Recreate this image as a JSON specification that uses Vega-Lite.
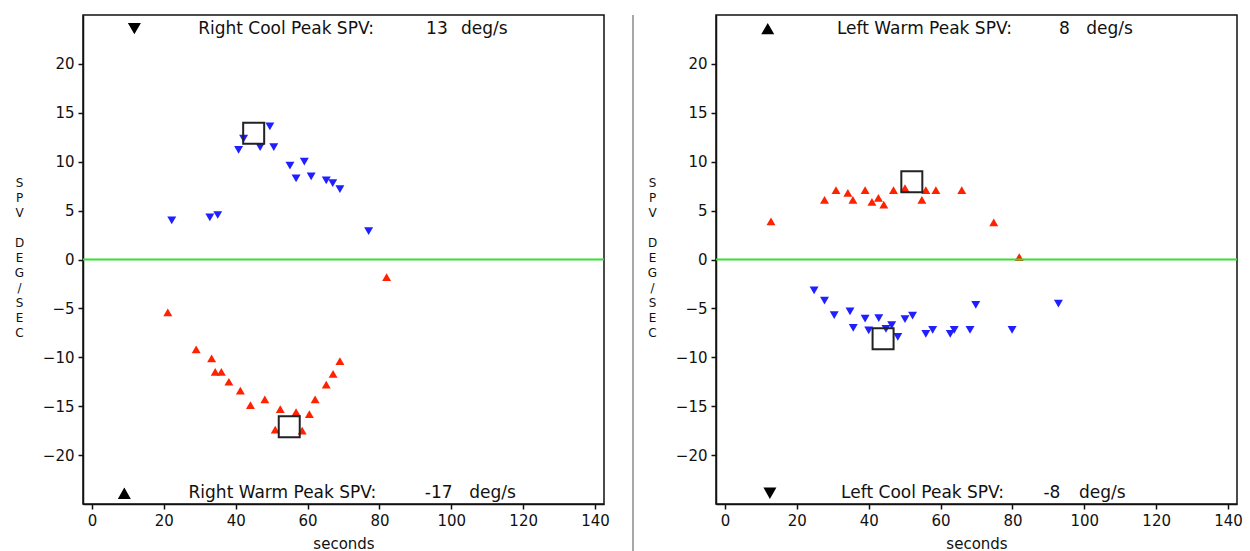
{
  "$schema": "https://vega.github.io/schema/vega-lite/v6.json",
  "background": "white",
  "padding": {"left": 13, "top": 14, "right": 0, "bottom": 0},
  "config": {
    "font": "DejaVu Sans",
    "view": {"stroke": "#111", "strokeWidth": 1.5},
    "axis": {"grid": false, "domainColor": "#111", "domainWidth": 1.5, "tickColor": "#111", "tickSize": 5, "tickWidth": 1.5, "labelColor": "#111", "labelFontSize": 15, "titleColor": "#111", "titleFontWeight": "normal", "labelPadding": 4}
  },
  "spacing": 5,
  "datasets": {
    "leftPts": [
      {"t": 22.2, "spv": 4.0, "stim": "cool"},
      {"t": 32.8, "spv": 4.3, "stim": "cool"},
      {"t": 35.0, "spv": 4.55, "stim": "cool"},
      {"t": 40.8, "spv": 11.2, "stim": "cool"},
      {"t": 42.2, "spv": 12.35, "stim": "cool"},
      {"t": 46.8, "spv": 11.5, "stim": "cool"},
      {"t": 49.5, "spv": 13.6, "stim": "cool"},
      {"t": 50.6, "spv": 11.5, "stim": "cool"},
      {"t": 55.1, "spv": 9.6, "stim": "cool"},
      {"t": 56.8, "spv": 8.3, "stim": "cool"},
      {"t": 59.1, "spv": 10.0, "stim": "cool"},
      {"t": 61.0, "spv": 8.5, "stim": "cool"},
      {"t": 65.2, "spv": 8.1, "stim": "cool"},
      {"t": 67.0, "spv": 7.8, "stim": "cool"},
      {"t": 69.0, "spv": 7.2, "stim": "cool"},
      {"t": 77.0, "spv": 2.9, "stim": "cool"},
      {"t": 82.0, "spv": -1.8, "stim": "warm"},
      {"t": 21.1, "spv": -5.4, "stim": "warm"},
      {"t": 29.0, "spv": -9.2, "stim": "warm"},
      {"t": 33.3, "spv": -10.1, "stim": "warm"},
      {"t": 34.3, "spv": -11.5, "stim": "warm"},
      {"t": 36.0, "spv": -11.5, "stim": "warm"},
      {"t": 38.1, "spv": -12.5, "stim": "warm"},
      {"t": 41.3, "spv": -13.4, "stim": "warm"},
      {"t": 44.1, "spv": -14.9, "stim": "warm"},
      {"t": 48.1, "spv": -14.3, "stim": "warm"},
      {"t": 52.4, "spv": -15.3, "stim": "warm"},
      {"t": 51.0, "spv": -17.4, "stim": "warm"},
      {"t": 56.8, "spv": -15.6, "stim": "warm"},
      {"t": 58.5, "spv": -17.5, "stim": "warm"},
      {"t": 60.5, "spv": -15.8, "stim": "warm"},
      {"t": 62.1, "spv": -14.3, "stim": "warm"},
      {"t": 65.2, "spv": -12.8, "stim": "warm"},
      {"t": 67.1, "spv": -11.7, "stim": "warm"},
      {"t": 69.0, "spv": -10.4, "stim": "warm"}
    ],
    "leftPeaks": [
      {"t": 45.0, "spv": 12.9},
      {"t": 54.9, "spv": -17.1}
    ],
    "leftSym": [
      {"t": 11.8, "spv": 23.6, "stim": "cool"},
      {"t": 9.0, "spv": -23.9, "stim": "warm"}
    ],
    "leftText": [
      {"t": 54.0, "spv": 23.6, "label": "Right Cool Peak SPV:"},
      {"t": 96.0, "spv": 23.6, "label": "13"},
      {"t": 109.2, "spv": 23.6, "label": "deg/s"},
      {"t": 53.0, "spv": -23.9, "label": "Right Warm Peak SPV:"},
      {"t": 96.5, "spv": -23.9, "label": "-17"},
      {"t": 111.5, "spv": -23.9, "label": "deg/s"}
    ],
    "rightPts": [
      {"t": 12.8, "spv": 3.9, "stim": "warm"},
      {"t": 27.7, "spv": 6.1, "stim": "warm"},
      {"t": 30.9, "spv": 7.1, "stim": "warm"},
      {"t": 34.2, "spv": 6.8, "stim": "warm"},
      {"t": 35.6, "spv": 6.1, "stim": "warm"},
      {"t": 39.0, "spv": 7.1, "stim": "warm"},
      {"t": 40.9, "spv": 5.9, "stim": "warm"},
      {"t": 42.7, "spv": 6.3, "stim": "warm"},
      {"t": 44.2, "spv": 5.6, "stim": "warm"},
      {"t": 46.9, "spv": 7.1, "stim": "warm"},
      {"t": 50.1, "spv": 7.3, "stim": "warm"},
      {"t": 54.8, "spv": 6.1, "stim": "warm"},
      {"t": 55.9, "spv": 7.1, "stim": "warm"},
      {"t": 58.7, "spv": 7.1, "stim": "warm"},
      {"t": 65.9, "spv": 7.1, "stim": "warm"},
      {"t": 74.8, "spv": 3.8, "stim": "warm"},
      {"t": 81.9, "spv": 0.25, "stim": "warm"},
      {"t": 24.8, "spv": -3.15, "stim": "cool"},
      {"t": 27.7, "spv": -4.2, "stim": "cool"},
      {"t": 30.4, "spv": -5.7, "stim": "cool"},
      {"t": 34.8, "spv": -5.3, "stim": "cool"},
      {"t": 35.7, "spv": -7.0, "stim": "cool"},
      {"t": 39.0, "spv": -6.05, "stim": "cool"},
      {"t": 40.0, "spv": -7.25, "stim": "cool"},
      {"t": 42.8, "spv": -6.0, "stim": "cool"},
      {"t": 44.8, "spv": -7.1, "stim": "cool"},
      {"t": 46.4, "spv": -6.7, "stim": "cool"},
      {"t": 48.1, "spv": -7.9, "stim": "cool"},
      {"t": 50.1, "spv": -6.1, "stim": "cool"},
      {"t": 52.2, "spv": -5.75, "stim": "cool"},
      {"t": 55.9, "spv": -7.6, "stim": "cool"},
      {"t": 57.8, "spv": -7.2, "stim": "cool"},
      {"t": 62.7, "spv": -7.6, "stim": "cool"},
      {"t": 63.8, "spv": -7.2, "stim": "cool"},
      {"t": 68.2, "spv": -7.2, "stim": "cool"},
      {"t": 69.8, "spv": -4.65, "stim": "cool"},
      {"t": 79.9, "spv": -7.2, "stim": "cool"},
      {"t": 92.8, "spv": -4.5, "stim": "cool"}
    ],
    "rightPeaks": [
      {"t": 52.0, "spv": 7.95},
      {"t": 44.0, "spv": -8.1}
    ],
    "rightSym": [
      {"t": 11.9, "spv": 23.6, "stim": "warm"},
      {"t": 12.5, "spv": -23.9, "stim": "cool"}
    ],
    "rightText": [
      {"t": 55.5, "spv": 23.6, "label": "Left Warm Peak SPV:"},
      {"t": 94.5, "spv": 23.6, "label": "8"},
      {"t": 107.0, "spv": 23.6, "label": "deg/s"},
      {"t": 55.0, "spv": -23.9, "label": "Left Cool Peak SPV:"},
      {"t": 91.0, "spv": -23.9, "label": "-8"},
      {"t": 105.0, "spv": -23.9, "label": "deg/s"}
    ]
  },
  "hconcat": [
    {
      "width": 521,
      "height": 489,
      "layer": [
        {
          "data": {"name": "leftPts"},
          "mark": {"type": "point", "filled": true, "opacity": 1, "size": 80},
          "encoding": {
            "x": {"field": "t", "type": "quantitative", "scale": {"domain": [-2.5, 142.5], "nice": false, "zero": false}, "axis": {"values": [0, 20, 40, 60, 80, 100, 120, 140], "title": "seconds", "titleFontSize": 15, "titlePadding": 8}},
            "y": {"field": "spv", "type": "quantitative", "scale": {"domain": [-25, 25], "nice": false, "zero": false}, "axis": {"values": [-20, -15, -10, -5, 0, 5, 10, 15, 20], "title": ["S", "P", "V", "\u2800", "D", "E", "G", "/", "S", "E", "C"], "titleAngle": 0, "titleAlign": "center", "titleBaseline": "middle", "titleX": -64, "titleY": 167, "titleFontSize": 12, "titleLineHeight": 15}},
            "shape": {"field": "stim", "type": "nominal", "scale": {"domain": ["cool", "warm"], "range": ["triangle-down", "triangle-up"]}, "legend": null},
            "color": {"field": "stim", "type": "nominal", "scale": {"domain": ["cool", "warm"], "range": ["#1f1fff", "#ff2200"]}, "legend": null}
          }
        },
        {
          "data": {"values": [{"spv": 0}]},
          "mark": {"type": "rule", "color": "#33e033", "strokeWidth": 2},
          "encoding": {"y": {"field": "spv", "type": "quantitative", "scale": {"domain": [-25, 25], "nice": false, "zero": false}}}
        },
        {
          "data": {"name": "leftPeaks"},
          "mark": {"type": "point", "shape": "square", "filled": false, "stroke": "#222", "strokeWidth": 2, "size": 441, "opacity": 1},
          "encoding": {
            "x": {"field": "t", "type": "quantitative", "scale": {"domain": [-2.5, 142.5], "nice": false, "zero": false}},
            "y": {"field": "spv", "type": "quantitative", "scale": {"domain": [-25, 25], "nice": false, "zero": false}}
          }
        },
        {
          "data": {"name": "leftSym"},
          "mark": {"type": "point", "filled": true, "color": "#000", "size": 170, "opacity": 1},
          "encoding": {
            "x": {"field": "t", "type": "quantitative", "scale": {"domain": [-2.5, 142.5], "nice": false, "zero": false}},
            "y": {"field": "spv", "type": "quantitative", "scale": {"domain": [-25, 25], "nice": false, "zero": false}},
            "shape": {"field": "stim", "type": "nominal", "scale": {"domain": ["cool", "warm"], "range": ["triangle-down", "triangle-up"]}, "legend": null}
          }
        },
        {
          "data": {"name": "leftText"},
          "mark": {"type": "text", "fontSize": 17, "align": "center", "baseline": "middle", "color": "#111"},
          "encoding": {
            "x": {"field": "t", "type": "quantitative", "scale": {"domain": [-2.5, 142.5], "nice": false, "zero": false}},
            "y": {"field": "spv", "type": "quantitative", "scale": {"domain": [-25, 25], "nice": false, "zero": false}},
            "text": {"field": "label", "type": "nominal"}
          }
        }
      ]
    },
    {
      "width": 25,
      "height": 537,
      "view": {"stroke": null},
      "data": {"values": [{"v": 17}]},
      "mark": {"type": "rule", "color": "#a8a8a8", "strokeWidth": 2},
      "encoding": {"x": {"field": "v", "type": "quantitative", "scale": {"domain": [0, 25]}, "axis": null}}
    },
    {
      "width": 521,
      "height": 489,
      "layer": [
        {
          "data": {"name": "rightPts"},
          "mark": {"type": "point", "filled": true, "opacity": 1, "size": 80},
          "encoding": {
            "x": {"field": "t", "type": "quantitative", "scale": {"domain": [-2.5, 142.5], "nice": false, "zero": false}, "axis": {"values": [0, 20, 40, 60, 80, 100, 120, 140], "title": "seconds", "titleFontSize": 15, "titlePadding": 8}},
            "y": {"field": "spv", "type": "quantitative", "scale": {"domain": [-25, 25], "nice": false, "zero": false}, "axis": {"values": [-20, -15, -10, -5, 0, 5, 10, 15, 20], "title": ["S", "P", "V", "\u2800", "D", "E", "G", "/", "S", "E", "C"], "titleAngle": 0, "titleAlign": "center", "titleBaseline": "middle", "titleX": -64, "titleY": 167, "titleFontSize": 12, "titleLineHeight": 15}},
            "shape": {"field": "stim", "type": "nominal", "scale": {"domain": ["cool", "warm"], "range": ["triangle-down", "triangle-up"]}, "legend": null},
            "color": {"field": "stim", "type": "nominal", "scale": {"domain": ["cool", "warm"], "range": ["#1f1fff", "#ff2200"]}, "legend": null}
          }
        },
        {
          "data": {"values": [{"spv": 0}]},
          "mark": {"type": "rule", "color": "#33e033", "strokeWidth": 2},
          "encoding": {"y": {"field": "spv", "type": "quantitative", "scale": {"domain": [-25, 25], "nice": false, "zero": false}}}
        },
        {
          "data": {"name": "rightPeaks"},
          "mark": {"type": "point", "shape": "square", "filled": false, "stroke": "#222", "strokeWidth": 2, "size": 441, "opacity": 1},
          "encoding": {
            "x": {"field": "t", "type": "quantitative", "scale": {"domain": [-2.5, 142.5], "nice": false, "zero": false}},
            "y": {"field": "spv", "type": "quantitative", "scale": {"domain": [-25, 25], "nice": false, "zero": false}}
          }
        },
        {
          "data": {"name": "rightSym"},
          "mark": {"type": "point", "filled": true, "color": "#000", "size": 170, "opacity": 1},
          "encoding": {
            "x": {"field": "t", "type": "quantitative", "scale": {"domain": [-2.5, 142.5], "nice": false, "zero": false}},
            "y": {"field": "spv", "type": "quantitative", "scale": {"domain": [-25, 25], "nice": false, "zero": false}},
            "shape": {"field": "stim", "type": "nominal", "scale": {"domain": ["cool", "warm"], "range": ["triangle-down", "triangle-up"]}, "legend": null}
          }
        },
        {
          "data": {"name": "rightText"},
          "mark": {"type": "text", "fontSize": 17, "align": "center", "baseline": "middle", "color": "#111"},
          "encoding": {
            "x": {"field": "t", "type": "quantitative", "scale": {"domain": [-2.5, 142.5], "nice": false, "zero": false}},
            "y": {"field": "spv", "type": "quantitative", "scale": {"domain": [-25, 25], "nice": false, "zero": false}},
            "text": {"field": "label", "type": "nominal"}
          }
        }
      ]
    }
  ]
}
